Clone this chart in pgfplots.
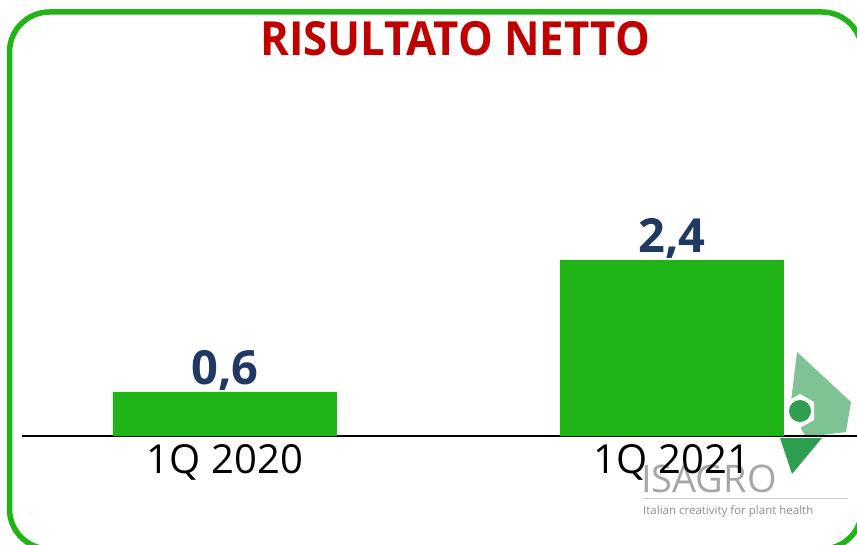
\documentclass[border=0pt]{standalone}
\usepackage{pgfplots}
\pgfplotsset{compat=1.18}
\usepackage{fontspec}
\setmainfont{Open Sans}
\definecolor{barg}{HTML}{20B416}
\definecolor{tred}{HTML}{C00000}
\definecolor{navy}{HTML}{1F3864}
\definecolor{lgreen}{HTML}{7DC394}
\definecolor{dgreen}{HTML}{2E9E4F}
\begin{document}
\begin{tikzpicture}[x=1pt,y=1pt]
\useasboundingbox (0,0) rectangle (857,-545);
\begin{scope}
\clip (0,0) rectangle (857,-545);
\draw[barg, line width=5.5pt, rounded corners=40pt] (9.5,-12) rectangle (862,-549);
% logo (decorative)
\fill[lgreen] (797,-352) -- (851,-402) -- (846,-432) -- (806,-437) -- (790,-410) -- cycle;
\fill[white] (800,-394) -- (814,-402) -- (814,-420) -- (800,-428) -- (786,-420) -- (786,-402) -- cycle;
\fill[dgreen] (800,-411) circle (11);
\fill[dgreen] (780,-438) -- (822,-438) -- (792,-474) -- cycle;
\node[anchor=base west, inner sep=0, text=black!35, font=\fontsize{38}{40}\selectfont] at (641,-492) {ISAGRO};
\draw[black!20, line width=1pt] (643,-498) -- (848,-498);
\node[anchor=base west, inner sep=0, text=black!45, font=\fontsize{11.5}{13}\selectfont] at (643,-514) {Italian creativity for plant health};
\end{scope}
\node[anchor=base, inner sep=0, text=tred, font=\bfseries\fontsize{47}{50}\selectfont, xscale=0.93] at (455,-56) {RISULTATO NETTO};
\begin{axis}[
  at={(22pt,-436pt)}, anchor=south west,
  scale only axis, width=835pt, height=376pt,
  xmin=-0.454, xmax=1.414, ymin=0, ymax=5.127,
  axis x line*=bottom, hide y axis,
  x axis line style={-, black, line width=1.8pt},
  xtick={0,1}, xticklabels={1Q 2020,1Q 2021},
  major tick length=0pt,
  xticklabel style={font=\fontsize{40}{44}\selectfont, text=black, yshift=-5pt},
  ybar, bar width=224pt,
  nodes near coords={\pgfmathprintnumber[fixed,fixed zerofill,precision=1,use comma,assume math mode=true]{\pgfplotspointmeta}},
  nodes near coords style={anchor=base, yshift=7pt, inner sep=0pt, text=navy, font=\bfseries\fontsize{47}{50}\selectfont},
  clip=false,
]
\addplot[fill=barg, draw=none] coordinates {(0,0.6) (1,2.4)};
\end{axis}
\end{tikzpicture}
\end{document}
